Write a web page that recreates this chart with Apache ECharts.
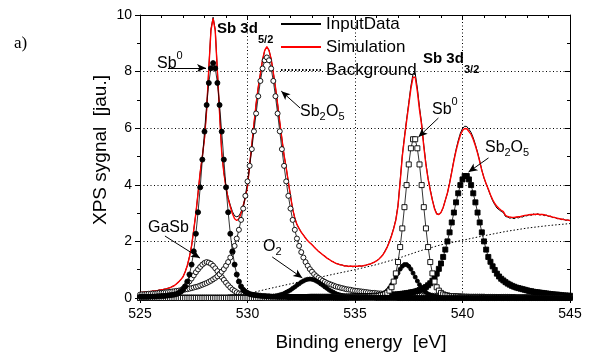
<!DOCTYPE html>
<html><head><meta charset="utf-8">
<script src="https://cdn.jsdelivr.net/npm/echarts@6/dist/echarts.min.js"></script>
<style>html,body{margin:0;padding:0;background:#fff}#c{width:591px;height:360px}</style>
</head><body><div id="c"></div>
<script>
// ---- data (binding energy in eV, signal in a.u.) ----
const energy = [
525.0,525.1,525.2,525.3,525.4,525.5,525.6,525.7,525.8,525.9,
526.0,526.1,526.2,526.3,526.4,526.5,526.6,526.7,526.8,526.9,
527.0,527.1,527.2,527.3,527.4,527.5,527.6,527.7,527.8,527.9,
528.0,528.1,528.2,528.3,528.4,528.5,528.6,528.7,528.8,528.9,
529.0,529.1,529.2,529.3,529.4,529.5,529.6,529.7,529.8,529.9,
530.0,530.1,530.2,530.3,530.4,530.5,530.6,530.7,530.8,530.9,
531.0,531.1,531.2,531.3,531.4,531.5,531.6,531.7,531.8,531.9,
532.0,532.1,532.2,532.3,532.4,532.5,532.6,532.7,532.8,532.9,
533.0,533.1,533.2,533.3,533.4,533.5,533.6,533.7,533.8,533.9,
534.0,534.1,534.2,534.3,534.4,534.5,534.6,534.7,534.8,534.9,
535.0,535.1,535.2,535.3,535.4,535.5,535.6,535.7,535.8,535.9,
536.0,536.1,536.2,536.3,536.4,536.5,536.6,536.7,536.8,536.9,
537.0,537.1,537.2,537.3,537.4,537.5,537.6,537.7,537.8,537.9,
538.0,538.1,538.2,538.3,538.4,538.5,538.6,538.7,538.8,538.9,
539.0,539.1,539.2,539.3,539.4,539.5,539.6,539.7,539.8,539.9,
540.0,540.1,540.2,540.3,540.4,540.5,540.6,540.7,540.8,540.9,
541.0,541.1,541.2,541.3,541.4,541.5,541.6,541.7,541.8,541.9,
542.0,542.1,542.2,542.3,542.4,542.5,542.6,542.7,542.8,542.9,
543.0,543.1,543.2,543.3,543.4,543.5,543.6,543.7,543.8,543.9,
544.0,544.1,544.2,544.3,544.4,544.5,544.6,544.7,544.8,544.9,
545.0];

const inputData = [
0.21,0.20,0.20,0.22,0.21,0.23,0.25,0.24,0.26,0.29,
0.28,0.31,0.32,0.35,0.36,0.41,0.44,0.51,0.56,0.66,
0.74,0.93,1.14,1.46,1.84,2.42,2.99,3.72,4.43,5.02,
5.63,6.67,8.12,9.50,9.92,9.48,8.02,6.58,5.17,4.44,
3.93,3.55,3.28,3.05,2.90,2.87,2.90,3.04,3.28,3.57,
3.96,4.69,5.42,6.14,6.86,7.44,7.93,8.40,8.74,8.86,
8.76,8.44,7.97,7.44,6.86,6.21,5.63,5.04,4.61,4.09,
3.61,3.14,2.83,2.59,2.46,2.32,2.23,2.11,2.03,1.94,
1.89,1.79,1.73,1.64,1.60,1.52,1.48,1.40,1.37,1.30,
1.28,1.22,1.21,1.17,1.17,1.13,1.14,1.11,1.13,1.10,
1.12,1.11,1.14,1.12,1.15,1.15,1.19,1.19,1.24,1.26,
1.32,1.36,1.45,1.53,1.67,1.81,2.00,2.22,2.47,2.78,
3.28,4.14,5.05,5.70,6.31,6.90,7.49,7.92,7.94,7.42,
6.74,6.17,5.40,4.75,4.22,3.84,3.47,3.17,2.98,2.96,
3.02,3.19,3.46,3.70,4.07,4.47,4.88,5.25,5.56,5.82,
5.99,6.07,6.06,5.96,5.85,5.66,5.42,5.15,4.85,4.52,
4.24,4.03,3.83,3.63,3.44,3.30,3.18,3.12,3.06,3.02,
2.88,2.86,2.82,2.84,2.80,2.85,2.83,2.87,2.86,2.91,
2.90,2.95,2.92,2.97,2.94,2.98,2.93,2.96,2.91,2.93,
2.88,2.89,2.84,2.85,2.80,2.81,2.77,2.79,2.74,2.76,
2.73];

const simulation = [
0.20,0.20,0.21,0.21,0.22,0.23,0.24,0.25,0.26,0.28,
0.29,0.30,0.32,0.34,0.37,0.40,0.44,0.50,0.57,0.65,
0.75,0.92,1.15,1.45,1.85,2.40,3.00,3.70,4.45,5.00,
5.65,6.65,8.10,9.45,9.88,9.44,8.00,6.55,5.15,4.42,
3.90,3.50,3.22,2.98,2.80,2.74,2.80,2.98,3.25,3.55,
3.95,4.70,5.40,6.15,6.85,7.45,7.92,8.42,8.75,8.88,
8.75,8.45,7.96,7.45,6.85,6.22,5.62,5.05,4.60,4.10,
3.60,3.15,2.82,2.60,2.45,2.33,2.22,2.12,2.02,1.95,
1.88,1.80,1.72,1.65,1.59,1.53,1.47,1.41,1.36,1.31,
1.27,1.23,1.20,1.18,1.16,1.14,1.13,1.12,1.12,1.12,
1.12,1.12,1.13,1.13,1.14,1.16,1.18,1.20,1.23,1.27,
1.31,1.37,1.44,1.53,1.65,1.80,1.98,2.20,2.45,2.75,
3.25,4.10,5.00,5.65,6.25,6.82,7.40,7.80,7.80,7.30,
6.65,6.10,5.35,4.70,4.20,3.80,3.45,3.15,2.97,2.95,
3.02,3.20,3.45,3.72,4.05,4.45,4.85,5.20,5.50,5.75,
5.92,5.99,5.98,5.88,5.78,5.60,5.38,5.12,4.82,4.50,
4.25,4.04,3.85,3.65,3.48,3.34,3.24,3.16,3.10,3.05,
2.92,2.88,2.86,2.85,2.85,2.86,2.87,2.88,2.90,2.92,
2.93,2.94,2.95,2.95,2.96,2.96,2.95,2.95,2.94,2.92,
2.90,2.88,2.86,2.84,2.82,2.80,2.79,2.77,2.76,2.75,
2.74];

const bgEnergy = [525,526,527,528,529,529.5,530,531,532,533,534,535,536,537,538,539,540,541,542,543,544,545];
const background = [0.02,0.02,0.02,0.03,0.04,0.06,0.15,0.33,0.50,0.67,0.84,1.00,1.18,1.40,1.66,1.88,2.04,2.20,2.35,2.47,2.56,2.63];

// Sb0 3d5/2 (filled circles)
const sb0_52 = [
0.04,0.04,0.04,0.04,0.04,0.05,0.05,0.05,0.06,0.06,
0.07,0.07,0.08,0.09,0.10,0.11,0.12,0.14,0.18,0.22,
0.29,0.41,0.58,0.83,1.18,1.65,2.27,3.03,3.91,4.89,
5.88,6.82,7.60,8.12,8.30,8.12,7.60,6.82,5.88,4.89,
3.91,3.03,2.27,1.65,1.18,0.83,0.58,0.41,0.29,0.22,
0.18,0.14,0.12,0.11,0.10,0.09,0.08,0.07,0.07,0.06,
0.06,0.05,0.05,0.05,0.04,0.04,0.04,0.04,0.04,0.03,
0.03,0.03,0.03,0.03,0.03,0.02,0.02,0.02,0.02,0.02,
0.02,0.02,0.02,0.02,0.02,0.02,0.02,0.02,0.02,0.02,
0.02,0.01,0.01,0.01,0.01,0.01,0.01,0.01,0.01,0.01,
0.01,0.01,0.01,0.01,0.01,0.01,0.01,0.01,0.01,0.01,
0.01,0.01,0.01,0.01,0.01,0.01,0.01,0.01,0.01,0.01,
0,0,0,0,0,0,0,0,0,0,
0,0,0,0,0,0,0,0,0,0,
0,0,0,0,0,0,0,0,0,0,
0,0,0,0,0,0,0,0,0,0,
0,0,0,0,0,0,0,0,0,0,
0,0,0,0,0,0,0,0,0,0,
0,0,0,0,0,0,0,0,0,0,
0,0,0,0,0,0,0,0,0,0,
0];

// Sb2O5 3d5/2 (open circles)
const sb2o5_52 = [
0.12,0.13,0.13,0.14,0.15,0.15,0.16,0.16,0.17,0.18,
0.18,0.19,0.20,0.21,0.22,0.23,0.24,0.25,0.26,0.27,
0.29,0.30,0.31,0.33,0.35,0.37,0.39,0.41,0.44,0.47,
0.50,0.53,0.57,0.61,0.66,0.71,0.77,0.84,0.93,1.02,
1.14,1.27,1.43,1.62,1.84,2.10,2.41,2.76,3.16,3.61,
4.12,4.67,5.26,5.89,6.52,7.13,7.67,8.11,8.40,8.50,
8.40,8.11,7.67,7.13,6.52,5.89,5.26,4.67,4.12,3.61,
3.16,2.76,2.41,2.10,1.84,1.62,1.43,1.27,1.14,1.02,
0.93,0.84,0.77,0.71,0.66,0.61,0.57,0.53,0.50,0.47,
0.44,0.41,0.39,0.37,0.35,0.33,0.31,0.30,0.29,0.27,
0.26,0.25,0.24,0.23,0.22,0.21,0.20,0.19,0.18,0.18,
0.17,0.16,0.16,0.15,0.15,0.14,0.13,0.13,0.12,0.12,
0.12,0.11,0.11,0.11,0.10,0.10,0.10,0.10,0.09,0.09,
0.09,0.09,0.08,0.08,0.08,0.08,0.08,0.08,0.07,0.07,
0.07,0.07,0.07,0.07,0.06,0.06,0.06,0.06,0.06,0.06,
0.06,0.05,0.05,0.05,0.05,0.05,0.05,0.05,0.05,0.05,
0.05,0.04,0.04,0.04,0.04,0.04,0.04,0.04,0.04,0.04,
0.04,0.04,0.04,0.04,0.04,0.03,0.03,0.03,0.03,0.03,
0.03,0.03,0.03,0.03,0.03,0.03,0.03,0.03,0.03,0.03,
0.02,0.02,0.02,0.02,0.02,0.02,0.02,0.02,0.02,0.02,
0.02];

// GaSb 3d5/2 (open circles)
const gasb_52 = [
0.02,0.03,0.03,0.03,0.03,0.03,0.04,0.04,0.04,0.05,
0.05,0.06,0.07,0.08,0.10,0.12,0.14,0.18,0.22,0.27,
0.33,0.41,0.50,0.59,0.69,0.80,0.91,1.01,1.10,1.18,
1.24,1.27,1.25,1.21,1.14,1.05,0.95,0.85,0.74,0.64,
0.54,0.45,0.37,0.30,0.25,0.20,0.16,0.13,0.11,0.09,
0.08,0.06,0.06,0.05,0.04,0.04,0.04,0.03,0.03,0.03,
0.03,0.02,0.02,0.02,0.02,0.02,0.02,0.02,0.02,0.02,
0.02,0.02,0.02,0.02,0.02,0.01,0.01,0.01,0.01,0.01,
0.01,0.01,0.01,0.01,0.01,0.01,0.01,0.01,0.01,0.01,
0.01,0.01,0.01,0.01,0.01,0.01,0.01,0.01,0.01,0.01,
0.01,0.01,0.01,0.01,0.01,0.01,0.01,0.01,0.01,0.01,
0,0,0,0,0,0,0,0,0,0,
0,0,0,0,0,0,0,0,0,0,
0,0,0,0,0,0,0,0,0,0,
0,0,0,0,0,0,0,0,0,0,
0,0,0,0,0,0,0,0,0,0,
0,0,0,0,0,0,0,0,0,0,
0,0,0,0,0,0,0,0,0,0,
0,0,0,0,0,0,0,0,0,0,
0,0,0,0,0,0,0,0,0,0,
0];

// O 1s (O2) (small filled circles)
const o2 = [
0,0,0,0,0,0,0,0,0,0,
0,0,0,0,0,0,0,0,0,0,
0.01,0.01,0.01,0.01,0.01,0.01,0.01,0.01,0.01,0.01,
0.01,0.01,0.01,0.01,0.01,0.01,0.01,0.01,0.01,0.01,
0.01,0.01,0.01,0.01,0.01,0.01,0.01,0.01,0.01,0.01,
0.02,0.02,0.02,0.02,0.02,0.02,0.02,0.03,0.03,0.03,
0.04,0.05,0.06,0.07,0.09,0.11,0.13,0.16,0.20,0.24,
0.28,0.34,0.39,0.45,0.50,0.56,0.60,0.64,0.66,0.67,
0.66,0.64,0.60,0.56,0.50,0.45,0.39,0.34,0.28,0.24,
0.20,0.16,0.13,0.11,0.09,0.07,0.06,0.05,0.04,0.03,
0.03,0.03,0.02,0.02,0.02,0.02,0.02,0.02,0.02,0.01,
0.01,0.01,0.01,0.01,0.01,0.01,0.01,0.01,0.01,0.01,
0.01,0.01,0.01,0.01,0.01,0.01,0.01,0.01,0.01,0.01,
0,0,0,0,0,0,0,0,0,0,
0,0,0,0,0,0,0,0,0,0,
0,0,0,0,0,0,0,0,0,0,
0,0,0,0,0,0,0,0,0,0,
0,0,0,0,0,0,0,0,0,0,
0,0,0,0,0,0,0,0,0,0,
0,0,0,0,0,0,0,0,0,0,
0];

// Sb0 3d3/2 (open squares)
const sb0_32 = [
0,0,0,0,0,0,0,0,0,0,
0,0,0,0,0,0,0,0,0,0,
0,0,0,0,0,0,0,0,0,0,
0,0,0,0,0,0,0,0,0,0,
0,0,0,0,0,0,0,0,0,0,
0,0,0,0,0,0,0,0,0.01,0.01,
0.01,0.01,0.01,0.01,0.01,0.01,0.01,0.01,0.01,0.01,
0.01,0.01,0.01,0.01,0.01,0.01,0.01,0.01,0.01,0.01,
0.01,0.01,0.01,0.02,0.02,0.02,0.02,0.02,0.02,0.02,
0.02,0.02,0.02,0.02,0.02,0.02,0.02,0.03,0.03,0.03,
0.03,0.03,0.03,0.04,0.04,0.04,0.04,0.05,0.05,0.06,
0.06,0.07,0.09,0.10,0.13,0.18,0.26,0.38,0.58,0.87,
1.27,1.80,2.46,3.21,3.99,4.72,5.29,5.61,5.61,5.29,
4.72,3.99,3.21,2.46,1.80,1.27,0.87,0.58,0.38,0.26,
0.18,0.13,0.10,0.09,0.07,0.06,0.06,0.05,0.05,0.04,
0.04,0.04,0.04,0.03,0.03,0.03,0.03,0.03,0.03,0.02,
0.02,0.02,0.02,0.02,0.02,0.02,0.02,0.02,0.02,0.02,
0.02,0.02,0.02,0.01,0.01,0.01,0.01,0.01,0.01,0.01,
0.01,0.01,0.01,0.01,0.01,0.01,0.01,0.01,0.01,0.01,
0.01,0.01,0.01,0.01,0.01,0.01,0.01,0.01,0,0,
0];

// GaSb 3d3/2 (small filled circles)
const gasb_32 = [
0,0,0,0,0,0,0,0,0,0,
0,0,0,0,0,0,0,0,0,0,
0,0,0,0,0,0,0,0,0,0,
0,0,0,0,0,0,0,0,0,0,
0,0,0,0,0,0,0,0,0,0,
0,0,0,0,0,0,0,0,0,0,
0,0,0,0,0,0,0,0,0,0,
0,0,0,0,0,0,0,0,0,0.01,
0.01,0.01,0.01,0.01,0.01,0.01,0.01,0.01,0.01,0.01,
0.01,0.01,0.01,0.01,0.01,0.01,0.01,0.01,0.02,0.02,
0.02,0.02,0.02,0.02,0.03,0.03,0.03,0.04,0.04,0.05,
0.06,0.08,0.11,0.14,0.20,0.26,0.35,0.47,0.60,0.74,
0.88,1.02,1.12,1.18,1.18,1.12,1.02,0.88,0.74,0.60,
0.47,0.35,0.26,0.20,0.14,0.11,0.08,0.06,0.05,0.04,
0.04,0.03,0.03,0.03,0.02,0.02,0.02,0.02,0.02,0.02,
0.01,0.01,0.01,0.01,0.01,0.01,0.01,0.01,0.01,0.01,
0.01,0.01,0.01,0.01,0.01,0.01,0.01,0.01,0.01,0,
0,0,0,0,0,0,0,0,0,0,
0,0,0,0,0,0,0,0,0,0,
0,0,0,0,0,0,0,0,0,0,
0];

// Sb2O5 3d3/2 (filled squares)
const sb2o5_32 = [
0.01,0.01,0.01,0.01,0.01,0.01,0.01,0.01,0.01,0.01,
0.01,0.01,0.01,0.01,0.01,0.01,0.01,0.01,0.01,0.01,
0.01,0.01,0.01,0.01,0.01,0.01,0.01,0.01,0.01,0.01,
0.01,0.01,0.01,0.01,0.01,0.01,0.01,0.01,0.01,0.01,
0.01,0.01,0.02,0.02,0.02,0.02,0.02,0.02,0.02,0.02,
0.02,0.02,0.02,0.02,0.02,0.02,0.02,0.02,0.02,0.02,
0.02,0.02,0.02,0.02,0.02,0.02,0.02,0.03,0.03,0.03,
0.03,0.03,0.03,0.03,0.03,0.03,0.03,0.03,0.03,0.04,
0.04,0.04,0.04,0.04,0.04,0.04,0.04,0.04,0.04,0.04,
0.05,0.05,0.05,0.05,0.05,0.05,0.05,0.05,0.05,0.06,
0.06,0.06,0.06,0.06,0.06,0.06,0.07,0.07,0.07,0.08,
0.08,0.08,0.09,0.09,0.09,0.10,0.11,0.11,0.12,0.12,
0.13,0.14,0.15,0.16,0.17,0.18,0.20,0.21,0.23,0.25,
0.28,0.31,0.35,0.39,0.45,0.52,0.61,0.73,0.86,1.03,
1.22,1.45,1.71,2.00,2.32,2.67,3.02,3.38,3.70,3.99,
4.19,4.31,4.31,4.19,3.99,3.70,3.38,3.02,2.67,2.32,
2.00,1.71,1.45,1.28,1.12,0.99,0.86,0.76,0.68,0.62,
0.56,0.51,0.47,0.43,0.40,0.37,0.35,0.33,0.31,0.29,
0.27,0.25,0.24,0.22,0.21,0.20,0.19,0.18,0.17,0.16,
0.15,0.14,0.13,0.12,0.12,0.11,0.10,0.09,0.09,0.08,
0.08];

const legendNames = ['InputData', 'Simulation', 'Background'];

// ---- chart ----
const FONT = 'Liberation Sans, Arial, sans-serif';
const chart = echarts.init(document.getElementById('c'), null, {renderer: 'canvas'});
const pairs = (xs, ys) => xs.map((x, i) => [x, ys[i]]);

function component(name, values, symbol, size, fill) {
  return {
    type: 'line', name, data: pairs(energy, values),
    symbol, symbolSize: size, showSymbol: true, showAllSymbol: true,
    lineStyle: {color: '#000', width: 0.8},
    itemStyle: {color: fill, borderColor: '#000', borderWidth: 0.9},
    emphasis: {disabled: true}, silent: true, z: 4, animation: false
  };
}

// arrow annotations [fromX, fromY, toX, toY] in data units
const arrows = [
  [526.30, 8.13, 528.07, 8.13],
  [532.45, 6.71, 531.57, 7.31],
  [526.16, 2.19, 527.79, 1.41],
  [531.15, 1.45, 532.55, 0.71],
  [538.88, 6.36, 537.95, 5.69],
  [541.21, 4.95, 540.28, 4.45]
];

function t(text, x, y, size, extra) {
  extra = extra || {};
  return {
    type: 'text', x, y, rotation: extra.rot || 0, silent: true, z: 100,
    style: {
      text, fontSize: size, fontFamily: extra.family || FONT,
      fontWeight: extra.bold ? 'bold' : 'normal', fill: '#000',
      align: extra.align || 'left', verticalAlign: 'middle'
    }
  };
}

const dotted = {color: '#000', width: 1, type: [1, 2.5]};
const axisLine = {show: true, onZero: false, lineStyle: {color: '#000', width: 1}};

const option = {
  animation: false,
  backgroundColor: '#fff',
  grid: {left: 140, right: 21, top: 15, bottom: 62, containLabel: false},
  legend: {
    data: legendNames, orient: 'vertical', left: 280, top: 15.5, padding: 0,
    itemWidth: 40, itemHeight: 17, itemGap: 6, selectedMode: false,
    itemStyle: {opacity: 0, borderWidth: 0},
    textStyle: {fontSize: 17, fontFamily: FONT, color: '#000'}
  },
  xAxis: [
    {type: 'value', position: 'bottom', min: 525, max: 545, interval: 5,
     axisLine, axisTick: {show: true, inside: false, length: 5, lineStyle: {color: '#000'}},
     minorTick: {show: true, splitNumber: 5, length: 3, lineStyle: {color: '#000'}},
     axisLabel: {color: '#000', fontSize: 14, fontFamily: FONT, margin: 9},
     splitLine: {show: true, lineStyle: dotted}},
    {type: 'value', position: 'top', min: 525, max: 545, interval: 5,
     axisLine, axisTick: {show: true, inside: true, length: 5, lineStyle: {color: '#000'}},
     minorTick: {show: true, splitNumber: 5, length: 3, lineStyle: {color: '#000'}},
     axisLabel: {show: false}, splitLine: {show: false}}
  ],
  yAxis: [
    {type: 'value', position: 'left', min: 0, max: 10, interval: 2,
     axisLine, axisTick: {show: true, inside: false, length: 5, lineStyle: {color: '#000'}},
     minorTick: {show: true, splitNumber: 2, length: 3, lineStyle: {color: '#000'}},
     axisLabel: {color: '#000', fontSize: 14, fontFamily: FONT, margin: 8},
     splitLine: {show: true, lineStyle: dotted}},
    {type: 'value', position: 'right', min: 0, max: 10, interval: 2,
     axisLine, axisTick: {show: true, inside: true, length: 5, lineStyle: {color: '#000'}},
     minorTick: {show: true, splitNumber: 2, length: 3, lineStyle: {color: '#000'}},
     axisLabel: {show: false}, splitLine: {show: false}}
  ],
  series: [
    {type: 'line', name: 'Background', data: pairs(bgEnergy, background), symbol: 'none',
     lineStyle: {color: '#000', width: 1, type: [1.5, 2]}, itemStyle: {color: '#000'}, z: 2, silent: true,
     markLine: {
       silent: true, animation: false, symbol: ['none', 'arrow'], symbolSize: [6, 9],
       label: {show: false}, emphasis: {disabled: true},
       lineStyle: {color: '#000', width: 1, type: 'solid'},
       data: arrows.map(a => [{coord: [a[0], a[1]]}, {coord: [a[2], a[3]]}])
     }},
    {type: 'line', name: 'InputData', data: pairs(energy, inputData), symbol: 'none',
     lineStyle: {color: '#000', width: 1}, itemStyle: {color: '#000'}, z: 3, silent: true},
    {type: 'line', name: 'Simulation', data: pairs(energy, simulation), symbol: 'none',
     lineStyle: {color: '#ff0000', width: 1.4}, itemStyle: {color: '#ff0000'}, z: 3, silent: true},
    component('GaSb 3d5/2', gasb_52, 'circle', 5, '#fff'),
    component('Sb2O5 3d5/2', sb2o5_52, 'circle', 5, '#fff'),
    component('O2', o2, 'circle', 4, '#000'),
    component('GaSb 3d3/2', gasb_32, 'circle', 4, '#000'),
    component('Sb2O5 3d3/2', sb2o5_32, 'rect', 5, '#000'),
    component('Sb0 3d3/2', sb0_32, 'rect', 5, '#fff'),
    component('Sb0 3d5/2', sb0_52, 'circle', 5, '#000')
  ],
  graphic: [
    t('a)', 14, 44, 17, {family: 'Liberation Serif, Times New Roman, serif'}),
    t('Binding energy  [eV]', 361, 343, 19, {align: 'center'}),
    t('XPS sygnal  [jau.]', 101, 150, 19, {align: 'center', rot: Math.PI / 2}),
    t('Sb 3d', 217, 29, 15, {bold: true}),
    t('5/2', 258, 40, 11, {bold: true}),
    t('Sb 3d', 423, 59, 15, {bold: true}),
    t('3/2', 464, 70, 11, {bold: true}),
    t('Sb', 157, 64, 16), t('0', 176.5, 56, 11),
    t('Sb', 300, 112, 16), t('2', 319.5, 117, 11), t('O', 326, 112, 16), t('5', 338.5, 117, 11),
    t('Sb', 432, 110, 16), t('0', 451.5, 102, 11),
    t('Sb', 485, 148, 16), t('2', 504.5, 153, 11), t('O', 510.5, 148, 16), t('5', 523, 153, 11),
    t('GaSb', 148, 228, 16),
    t('O', 263, 247, 16), t('2', 275.5, 252, 11)
  ]
};
chart.setOption(option);
</script>
</body></html>
